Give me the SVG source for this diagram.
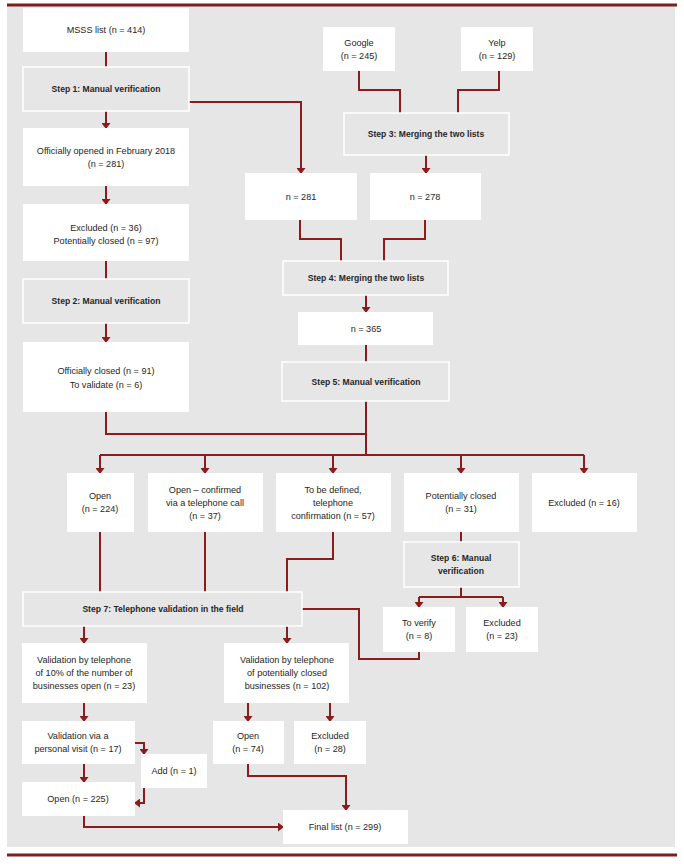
<svg xmlns="http://www.w3.org/2000/svg" width="684" height="864" viewBox="0 0 684 864">
<defs>
<style>
.bg{fill:#e6e6e6}
.w{fill:#ffffff}
.s{fill:#e6e6e6;stroke:#ffffff;stroke-width:1.5}
text{font-family:"Liberation Sans",Arial,sans-serif;font-size:9.1px;fill:#262626;text-anchor:middle}
.b{font-weight:bold;font-size:8.6px}
.c{fill:none;stroke:#8a1c1c;stroke-width:2}
.a{marker-end:url(#ah)}
.rule{stroke:#7d1f1f;stroke-width:3}
</style>
<marker id="ah" markerUnits="userSpaceOnUse" viewBox="0 0 6 9" refX="5" refY="4.5" markerWidth="6" markerHeight="9" orient="auto">
<path d="M0,0 L6,4.5 L0,9 z" fill="#8a1c1c"/>
</marker>
</defs>
<rect class="bg" x="7" y="6" width="668" height="841"/>
<line class="rule" x1="7" y1="5" x2="677" y2="5"/>
<line class="rule" x1="7" y1="855" x2="677" y2="855"/>

<g id="connectors">
<path class="c" d="M106,52 V67"/>
<path class="c a" d="M106,111 V128"/>
<path class="c a" d="M189,102 H301 V173"/>
<path class="c a" d="M106,186 V204"/>
<path class="c" d="M106,261 V279"/>
<path class="c a" d="M106,323 V342"/>
<path class="c" d="M359,71 V90 H400 V113"/>
<path class="c" d="M499,71 V90 H458 V113"/>
<path class="c a" d="M426,155 V173"/>
<path class="c" d="M300,220 V239 H341 V261"/>
<path class="c" d="M425,220 V239 H384 V261"/>
<path class="c a" d="M366,295 V312"/>
<path class="c" d="M366,345 V362"/>
<path class="c" d="M366,401 V455"/>
<path class="c" d="M106,412 V434 H366"/>
<path class="c" d="M100,455 H584"/>
<path class="c a" d="M100,455 V473"/>
<path class="c a" d="M205,455 V473"/>
<path class="c a" d="M333,455 V473"/>
<path class="c a" d="M461,455 V473"/>
<path class="c a" d="M584,455 V473"/>
<path class="c" d="M100,532 V592"/>
<path class="c" d="M205,532 V592"/>
<path class="c" d="M333,532 V559 H287 V592"/>
<path class="c" d="M461,532 V542"/>
<path class="c" d="M461,587 V597"/>
<path class="c" d="M419,597 H503"/>
<path class="c a" d="M419,597 V607"/>
<path class="c a" d="M503,597 V607"/>
<path class="c" d="M302,609 H359 V659 H419 V652"/>
<path class="c a" d="M84,626 V643"/>
<path class="c a" d="M287,626 V643"/>
<path class="c a" d="M84,703 V721"/>
<path class="c a" d="M248,703 V721"/>
<path class="c a" d="M330,703 V721"/>
<path class="c a" d="M135,743 H144 V754"/>
<path class="c a" d="M144,788 V803 H135"/>
<path class="c a" d="M84,764 V782"/>
<path class="c a" d="M84,816 V827 H283"/>
<path class="c a" d="M248,764 V776 H346 V810"/>
</g>

<g id="msss"><rect class="w" x="23" y="8" width="166" height="44"/><text x="106" y="33">MSSS list (n = 414)</text></g>
<g id="step1"><rect class="s" x="23" y="67" width="166" height="44"/><text class="b" x="106" y="92">Step 1: Manual verification</text></g>
<g id="opened"><rect class="w" x="23" y="128" width="166" height="58"/><text x="106" y="154">Officially opened in February 2018</text><text x="106" y="167">(n = 281)</text></g>
<g id="excluded36"><rect class="w" x="23" y="204" width="166" height="57"/><text x="106" y="231">Excluded (n = 36)</text><text x="106" y="244">Potentially closed (n = 97)</text></g>
<g id="step2"><rect class="s" x="23" y="279" width="166" height="44"/><text class="b" x="106" y="304">Step 2: Manual verification</text></g>
<g id="closed91"><rect class="w" x="23" y="342" width="166" height="70"/><text x="106" y="374">Officially closed (n = 91)</text><text x="106" y="388">To validate (n = 6)</text></g>
<g id="google"><rect class="w" x="323" y="27" width="72" height="44"/><text x="359" y="46">Google</text><text x="359" y="59">(n = 245)</text></g>
<g id="yelp"><rect class="w" x="461" y="27" width="72" height="44"/><text x="497" y="46">Yelp</text><text x="497" y="59">(n = 129)</text></g>
<g id="step3"><rect class="s" x="344" y="113" width="165" height="42"/><text class="b" x="426" y="137">Step 3: Merging the two lists</text></g>
<g id="n281"><rect class="w" x="245" y="173" width="112" height="47"/><text x="301" y="200">n = 281</text></g>
<g id="n278"><rect class="w" x="370" y="173" width="111" height="47"/><text x="425" y="200">n = 278</text></g>
<g id="step4"><rect class="s" x="283" y="261" width="165" height="34"/><text class="b" x="366" y="281">Step 4: Merging the two lists</text></g>
<g id="n365"><rect class="w" x="298" y="312" width="135" height="33"/><text x="366" y="332">n = 365</text></g>
<g id="step5"><rect class="s" x="282" y="362" width="167" height="39"/><text class="b" x="366" y="385">Step 5: Manual verification</text></g>
<g id="open224"><rect class="w" x="67" y="473" width="67" height="59"/><text x="100" y="499">Open</text><text x="100" y="512">(n = 224)</text></g>
<g id="openconf"><rect class="w" x="148" y="473" width="115" height="59"/><text x="205" y="493">Open – confirmed</text><text x="205" y="506">via a telephone call</text><text x="205" y="519">(n = 37)</text></g>
<g id="tbd"><rect class="w" x="276" y="473" width="115" height="59"/><text x="333" y="493">To be defined,</text><text x="333" y="506">telephone</text><text x="333" y="519">confirmation (n = 57)</text></g>
<g id="potclosed"><rect class="w" x="404" y="473" width="115" height="59"/><text x="461" y="499">Potentially closed</text><text x="461" y="512">(n = 31)</text></g>
<g id="excl16"><rect class="w" x="532" y="473" width="105" height="59"/><text x="584" y="506">Excluded (n = 16)</text></g>
<g id="step6"><rect class="s" x="404" y="542" width="115" height="45"/><text class="b" x="461" y="561">Step 6: Manual</text><text class="b" x="461" y="574">verification</text></g>
<g id="toverify"><rect class="w" x="383" y="607" width="72" height="45"/><text x="419" y="626">To verify</text><text x="419" y="639">(n = 8)</text></g>
<g id="excl23"><rect class="w" x="466" y="607" width="72" height="45"/><text x="502" y="626">Excluded</text><text x="502" y="639">(n = 23)</text></g>
<g id="step7"><rect class="s" x="23" y="592" width="279" height="34"/><text class="b" x="163" y="612">Step 7: Telephone validation in the field</text></g>
<g id="val10"><rect class="w" x="22" y="643" width="125" height="60"/><text x="84" y="663">Validation by telephone</text><text x="84" y="676">of 10% of the number of</text><text x="84" y="689">businesses open (n = 23)</text></g>
<g id="valpc"><rect class="w" x="224" y="643" width="125" height="60"/><text x="287" y="663">Validation by telephone</text><text x="287" y="676">of potentially closed</text><text x="287" y="689">businesses (n = 102)</text></g>
<g id="visit"><rect class="w" x="22" y="721" width="113" height="43"/><text x="78" y="739">Validation via a</text><text x="78" y="752">personal visit (n = 17)</text></g>
<g id="open74"><rect class="w" x="213" y="721" width="71" height="43"/><text x="248" y="739">Open</text><text x="248" y="752">(n = 74)</text></g>
<g id="excl28"><rect class="w" x="294" y="721" width="72" height="43"/><text x="330" y="739">Excluded</text><text x="330" y="752">(n = 28)</text></g>
<g id="add"><rect class="w" x="141" y="754" width="66" height="34"/><text x="174" y="774">Add (n = 1)</text></g>
<g id="open225"><rect class="w" x="22" y="782" width="113" height="34"/><text x="78" y="802">Open (n = 225)</text></g>
<g id="final"><rect class="w" x="283" y="810" width="125" height="34"/><text x="345" y="830">Final list (n = 299)</text></g>
</svg>
